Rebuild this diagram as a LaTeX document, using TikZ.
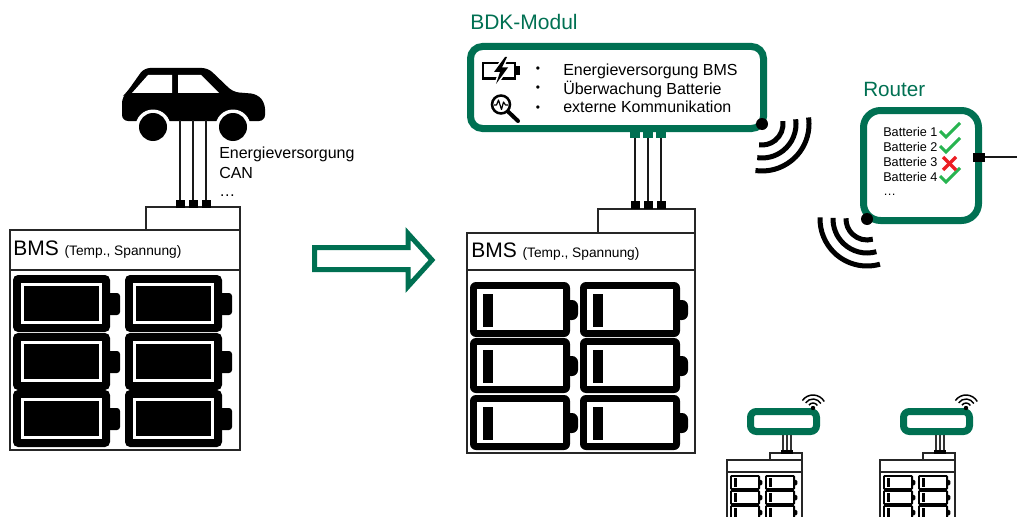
\documentclass[tikz,border=0pt]{standalone}
\usepackage{fontspec}
\setmainfont{Liberation Sans}
\definecolor{bdkgreen}{RGB}{0,112,82}
\definecolor{okgreen}{RGB}{40,180,80}
\definecolor{failred}{RGB}{235,30,35}
\tikzset{
  frame/.style={draw=black!85, line width=1.5pt},
  thinframe/.style={draw=black!85, line width=1.1pt},
  wire/.style={draw=black!90, line width=1.5pt},
  plug/.style={fill=black, inner sep=0pt, minimum width=6.75pt, minimum height=6pt},
  gplug/.style={fill=bdkgreen, inner sep=0pt, minimum width=7.5pt, minimum height=4.5pt},
  tinyplug/.style={fill=black, inner sep=0pt, minimum width=2.4pt, minimum height=2.4pt},
  modbox/.style={draw=bdkgreen, line width=5.25pt},
  signal/.style={draw=black, line width=3.75pt},
  smallsignal/.style={draw=black, line width=1.1pt},
  lbl/.style={inner sep=0pt, anchor=base west},
  check/.style={draw=okgreen, line width=2.25pt},
  cross/.style={draw=failred, line width=2.6pt},
}
% charged cell: thick rounded frame, full black core
\newcommand{\fullcell}[2]{%
  \begin{scope}[shift={(#1,#2)}]
    \fill[black, rounded corners=3.75pt] (0,0) rectangle (97,57);
    \fill[black, rounded corners=2.25pt] (93,18) rectangle (107,40);
    \fill[white] (8,8) rectangle (89,49);
    \fill[black] (11,11) rectangle (86,46);
  \end{scope}}
% nearly empty cell: frame with a thin bar on the left
\newcommand{\emptycell}[4]{%
  \begin{scope}[shift={(#1,#2)}, #3]
    \fill[black, rounded corners=#4] (0,0) rectangle (100,55);
    \fill[black, rounded corners=#4] (95,18) rectangle (108,38);
    \fill[white] (7,7) rectangle (93,48);
    \fill[black] (13,12) rectangle (23,45);
  \end{scope}}
% a compact module mounted on a battery pack
\newcommand{\miniunit}[2]{%
  \begin{scope}[shift={(#1,0)}]
    \draw[modbox, rounded corners=4.5pt] (750.5,411.5) rectangle (816.5,431.5);
    \coordinate (#2dot) at (813,408);
    \fill (#2dot) circle[radius=2.2];
    \foreach \r in {5,9,13} {
      \draw[smallsignal] (#2dot) ++(-145:\r) arc[start angle=-145, end angle=-30, radius=\r];
    }
    \draw[thinframe] (770,453) rectangle (802,460);
    \draw[thinframe] (727,460) rectangle (802,530);
    \draw[thinframe] (727,472) -- (802,472);
    \foreach \px [count=\i] in {783,787,791} {
      \coordinate (#2top\i) at (\px,435);
      \node[tinyplug] (#2plug\i) at (\px,452) {};
      \draw[black!80, line width=0.8pt] (#2top\i) -- (#2plug\i);
    }
    \foreach \cx in {730,765} {
      \foreach \cy in {475,490,505} {
        \emptycell{\cx}{\cy}{xscale=0.3, yscale=0.27}{1pt}
      }
    }
  \end{scope}}

\begin{document}
\begin{tikzpicture}[x=0.75pt, y=-0.75pt]
\useasboundingbox (0,0) rectangle (1017,517);
\clip (0,0) rectangle (1017,517);

% ---------------- vehicle with conventional pack ----------------
\fill[black, rounded corners=4.5pt] (122,121) -- (122,97) -- (127,92) -- (144,68)
  -- (208,68) -- (233,92) -- (257,94) -- (265,103) -- (265,121) -- cycle;
\fill[white] (132,93) -- (148,75) -- (172,75) -- (172,93) -- cycle;
\fill[white] (178,75) -- (201,75) -- (219,93) -- (178,93) -- cycle;
\foreach \wx in {153,233} {
  \fill[white] (\wx,127) circle[radius=17.5];
  \fill[black] (\wx,127) circle[radius=14];
}
\draw[frame] (146,207) rectangle (240,230);
\foreach \px [count=\i] in {180,193,206} {
  \coordinate (car\i) at (\px,120);
  \node[plug] (carplug\i) at (\px,204) {};
  \draw[wire] (car\i) -- (carplug\i);
}
\node[lbl, font=\fontsize{12}{14}\selectfont] (cartxt1) at (219,158) {Energieversorgung};
\node[lbl, font=\fontsize{12}{14}\selectfont] (cartxt2) at (219,178) {CAN};
\node[lbl, font=\fontsize{12}{14}\selectfont] (cartxt3) at (219,196) {…};

\draw[frame] (10,230) rectangle (240,450);
\draw[frame] (10,270) -- (240,270);
\node[lbl, font=\fontsize{15.75}{18}\selectfont] (bmsA) at (13,255)
  {BMS \fontsize{10.3}{12}\selectfont(Temp., Spannung)};
\foreach \cx in {13,125} {
  \foreach \cy in {275,333,390} {
    \fullcell{\cx}{\cy}
  }
}

% ---------------- transition arrow ----------------
\draw[bdkgreen, line width=3.75pt, line join=miter] (314.5,247.5) -- (408,247.5) -- (408,233.5)
  -- (432,260) -- (408,286.5) -- (408,269.5) -- (314.5,269.5) -- cycle;

% ---------------- BDK module on pack ----------------
\node[lbl, font=\fontsize{15.75}{18}\selectfont, text=bdkgreen] (bdktitle) at (470,30) {BDK-Modul};
\draw[modbox, rounded corners=9pt] (470.5,46.5) rectangle (763.5,128.5);

% charging-cell icon
\draw[black, line width=1.9pt] (483,63) rectangle (515,78.5);
\fill[black] (515,66.5) rectangle (520,75);
\def\boltpath{(505,57) -- (494,72) -- (500,72) -- (496,84) -- (508,67.5) -- (502,67.5) -- (507,57) -- cycle}
\draw[white, line width=2.4pt] \boltpath;
\fill[black] \boltpath;
% monitoring icon
\draw[black, line width=1.9pt] (501,104.5) circle[radius=9];
\draw[black, line width=3pt, line cap=round] (508,111.5) -- (518,121);
\draw[black, line width=0.9pt, line join=round] (494,105) -- (496.5,105) -- (498.5,100)
  -- (501.5,109.5) -- (503.5,102) -- (505.5,105) -- (508,105);

\foreach \b/\t [count=\i] in {75/Energieversorgung BMS, 94/Überwachung Batterie, 113/externe Kommunikation} {
  \node[inner sep=0pt, anchor=base, font=\fontsize{9}{10}\selectfont] (bul\i) at (538,\b-2) {•};
  \node[lbl, font=\fontsize{12}{14}\selectfont] (feat\i) at (563,\b) {\t};
}

\coordinate (bdkdot) at (762,124);
\fill (bdkdot) circle[radius=6];
\foreach \r in {21,34,47} {
  \draw[signal] (bdkdot) ++(-8:\r) arc[start angle=-8, end angle=98, radius=\r];
}

\draw[frame] (598,209) rectangle (695,233);
\foreach \px [count=\i] in {635,648,661} {
  \node[gplug] (bdkplug\i) at (\px,135) {};
  \node[plug] (bmsplug\i) at (\px,205) {};
  \draw[wire] (bdkplug\i) -- (bmsplug\i);
}
\draw[frame] (467,233) rectangle (695,453);
\draw[frame] (467,270) -- (695,270);
\node[lbl, font=\fontsize{15.75}{18}\selectfont] (bmsB) at (471,257)
  {BMS \fontsize{10.3}{12}\selectfont(Temp., Spannung)};
\foreach \cx in {470,580} {
  \foreach \cy in {282,338,395} {
    \emptycell{\cx}{\cy}{}{4.5pt}
  }
}

% ---------------- router ----------------
\node[lbl, font=\fontsize{15.5}{18}\selectfont, text=bdkgreen] (routertitle) at (863,96) {Router};
\draw[modbox, rounded corners=12.75pt] (863.5,110.5) rectangle (978.5,220.5);
\foreach \n [count=\i from 0] in {1,2,3,4} {
  \node[lbl, font=\fontsize{9.5}{11}\selectfont] (bat\n) at (883,136+15*\i) {Batterie \n};
}
\node[lbl, font=\fontsize{9.5}{11}\selectfont] (batmore) at (883,195) {…};
\foreach \b in {136,151,181} {
  \draw[check] (940,\b-5) -- (946,\b+1) -- (960,\b-13);
}
\draw[cross] (943,157) -- (956,170);
\draw[cross] (943,170) -- (956,157);

\node[plug, minimum width=9pt, minimum height=6.75pt] (routerplug) at (979,157) {};
\coordinate (uplink) at (1020,157);
\draw[wire] (routerplug) -- (uplink);

\coordinate (routerdot) at (867,219);
\fill (routerdot) circle[radius=6];
\foreach \r in {21,34,47} {
  \draw[signal] (routerdot) ++(74:\r) arc[start angle=74, end angle=182, radius=\r];
}

% ---------------- further modules ----------------
\miniunit{0}{ua}
\miniunit{153}{ub}

\end{tikzpicture}
\end{document}
